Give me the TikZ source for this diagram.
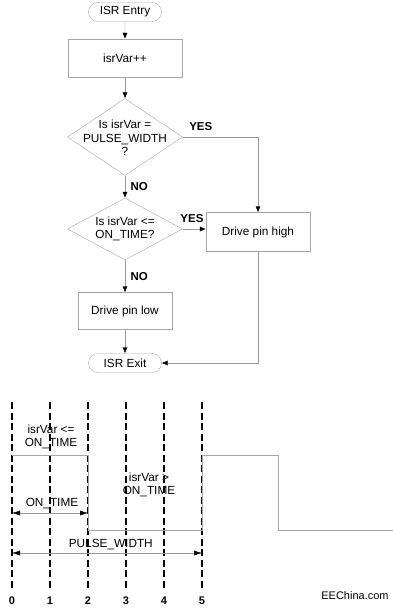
\documentclass[tikz,border=0pt]{standalone}
\usepackage{fontspec}
\setmainfont{Liberation Sans}
\usepackage{tikz}
\usetikzlibrary{positioning,shapes.geometric,shapes.misc,arrows.meta}

\begin{document}
\begin{tikzpicture}[
            x=1pt, y=-1pt,
            font=\fontsize{11.8}{13.5}\selectfont,
            terminal/.style={rounded rectangle, draw=gray!70, minimum width=75pt, minimum height=19pt, inner sep=1pt},
            process/.style={rectangle, draw=gray!70, minimum width=114pt, minimum height=38pt},
            decision/.style={diamond, draw=gray!70, inner sep=0pt, minimum width=115pt},
            flow/.style={draw=gray!80, -{Latex[length=6pt,width=5pt,color=black]}},
            span/.style={draw=gray!80, {Latex[length=8pt,width=5pt,color=black]}-{Latex[length=8pt,width=5pt,color=black]}},
            tag/.style={font=\fontsize{11.5}{13}\selectfont\bfseries},
            gridline/.style={black, line width=1.8pt, dash pattern=on 7pt off 3.5pt},
            wave/.style={draw=gray!70, line width=0.8pt}
        ]
        \useasboundingbox (0,0) rectangle (393,610);

        % Flow chart
        \node[terminal] (entry) at (125,12) {ISR Entry};
        \node[process] (inc) at (125,58) {isrVar++};
        \node[decision, minimum height=77pt,
              label={[align=center, yshift=-1pt]center:Is isrVar =\\PULSE\_WIDTH\\?}] (pw) at (125,137) {};
        \node[decision, minimum height=62pt,
              label={[align=center]center:Is isrVar <=\\ON\_TIME?}] (ontime) at (125,229) {};
        \node[process, minimum width=104pt, minimum height=39pt] (high) at (258,232) {Drive pin high};
        \node[process, minimum width=94pt, minimum height=37pt] (low) at (125,311) {Drive pin low};
        \node[terminal] (exit) at (125,363) {ISR Exit};

        % Connections
        \draw[flow] (entry) -- (inc);
        \draw[flow] (inc) -- (pw);
        \draw[flow] (pw) -- node[tag, right=2pt] (no1) {NO} (ontime);
        \draw[flow] (pw.east) -| node[tag, above=3pt, pos=0.12] (yes1) {YES} (high.north);
        \draw[flow] (ontime.east) -- node[tag, above=3pt, pos=0.4] (yes2) {YES} (high.west |- ontime.east);
        \draw[flow] (ontime) -- node[tag, right=2pt] (no2) {NO} (low);
        \draw[flow] (low) -- (exit);
        \draw[flow] (high) |- (exit);

        % Timing diagram
        \foreach \i in {0,...,5} {
            \coordinate (top\i) at (12+38*\i,402);
            \coordinate (bot\i) at (12+38*\i,588);
            \draw[gridline] (top\i) -- (bot\i);
            \node[tag, font=\fontsize{11}{13}\selectfont\bfseries] (num\i) at (12+38*\i,601) {\i};
        }

        \draw[wave] (12,455) -- (88,455) -- (88,530) -- (202,530) -- (202,455)
            -- (278,455) -- (278,530) -- (393,530);

        \node[align=center] (lowlbl) at (51,437) {isrVar <=\\ON\_TIME};
        \node[align=center] (highlbl) at (149,485) {isrVar >\\ON\_TIME};

        \coordinate (onA) at (12,513);
        \coordinate (onB) at (88,513);
        \draw[span] (onA) -- node[above=1pt, xshift=2pt] (onlbl) {ON\_TIME} (onB);

        \coordinate (pwA) at (12,553);
        \coordinate (pwB) at (202,553);
        \draw[span] (pwA) -- node[above=0pt, pos=0.52] (pwlbl) {PULSE\_WIDTH} (pwB);

        \node[font=\fontsize{11}{13}\selectfont] (site) at (355,596) {EEChina.com};

        \end{tikzpicture}
\end{document}
